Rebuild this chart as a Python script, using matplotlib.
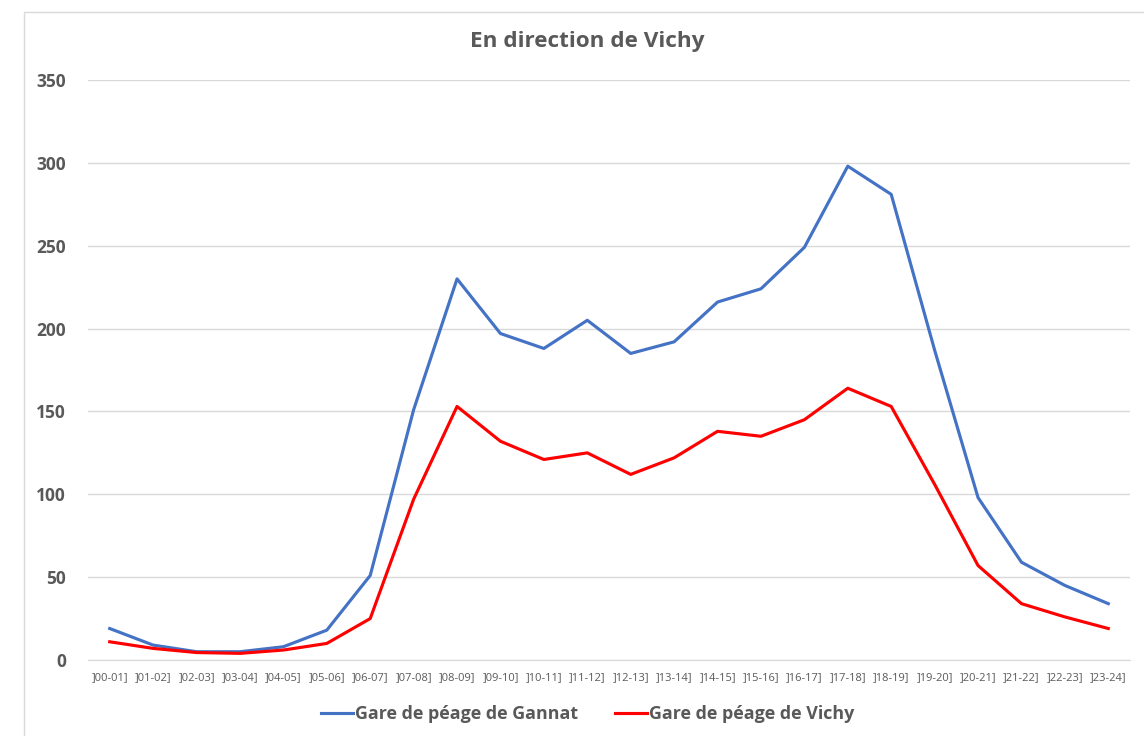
import matplotlib
matplotlib.use("Agg")
import matplotlib.pyplot as plt
from matplotlib.patches import Rectangle

categories = ["]00-01]", "]01-02]", "]02-03]", "]03-04]", "]04-05]", "]05-06]", "]06-07]",
              "]07-08]", "]08-09]", "]09-10]", "]10-11]", "]11-12]", "]12-13]", "]13-14]",
              "]14-15]", "]15-16]", "]16-17]", "]17-18]", "]18-19]", "]19-20]", "]20-21]",
              "]21-22]", "]22-23]", "]23-24]"]
gannat = [19, 9, 5, 5, 8, 18, 51, 151, 230, 197, 188, 205, 185, 192, 216, 224, 249, 298, 281,
          187, 98, 59, 45, 34]
vichy = [11, 7, 4.5, 4, 6, 10, 25, 97, 153, 132, 121, 125, 112, 122, 138, 135, 145, 164, 153,
         106, 57, 34, 26, 19]
yticks = [0, 50, 100, 150, 200, 250, 300, 350]

plt.rcParams['font.family'] = ['Open Sans', 'DejaVu Sans']
txt = '#595959'

fig = plt.figure(figsize=(11.44, 7.36), dpi=100)
fig.patches.append(Rectangle((24/1144, -0.01), 1.0, 1 - 12/736 + 0.01, transform=fig.transFigure,
                             fill=False, edgecolor='#D9D9D9', linewidth=1))
ax = fig.add_axes([88/1144, 1 - 660/736, (1130-88)/1144, 580/736])

x = list(range(len(categories)))
ax.plot(x, gannat, color='#4472C4', lw=2.25, label='Gare de péage de Gannat')
ax.plot(x, vichy, color='#FF0000', lw=2.25, label='Gare de péage de Vichy')

ax.set_xlim(-0.5, len(categories) - 0.5)
ax.set_ylim(0, 350)
ax.set_yticks(yticks)
ax.set_yticklabels([str(v) for v in yticks], fontsize=12.5, fontweight='bold', color=txt)
ax.set_xticks(x)
ax.set_xticklabels(categories, fontsize=8, color=txt)
ax.tick_params(axis='both', length=0)
ax.tick_params(axis='y', pad=16)
ax.tick_params(axis='x', pad=9)
ax.grid(axis='y', color='#D9D9D9', lw=1)
ax.set_axisbelow(True)
for s in ['top', 'right', 'left']:
    ax.spines[s].set_visible(False)
ax.spines['bottom'].set_color('#D9D9D9')

fig.text(587.5/1144, 1 - 42/736, 'En direction de Vichy', ha='center', va='center',
         fontsize=16.2, fontweight='bold', color=txt)

leg = fig.legend(loc='center', bbox_to_anchor=(587.5/1144, 1 - 714/736), ncol=2, frameon=False,
                 prop={'size': 12.9, 'weight': 'bold'}, handlelength=1.8, handletextpad=0.1,
                 columnspacing=2.05)
for t in leg.get_texts():
    t.set_color(txt)

fig.savefig('out.png', dpi=100)
